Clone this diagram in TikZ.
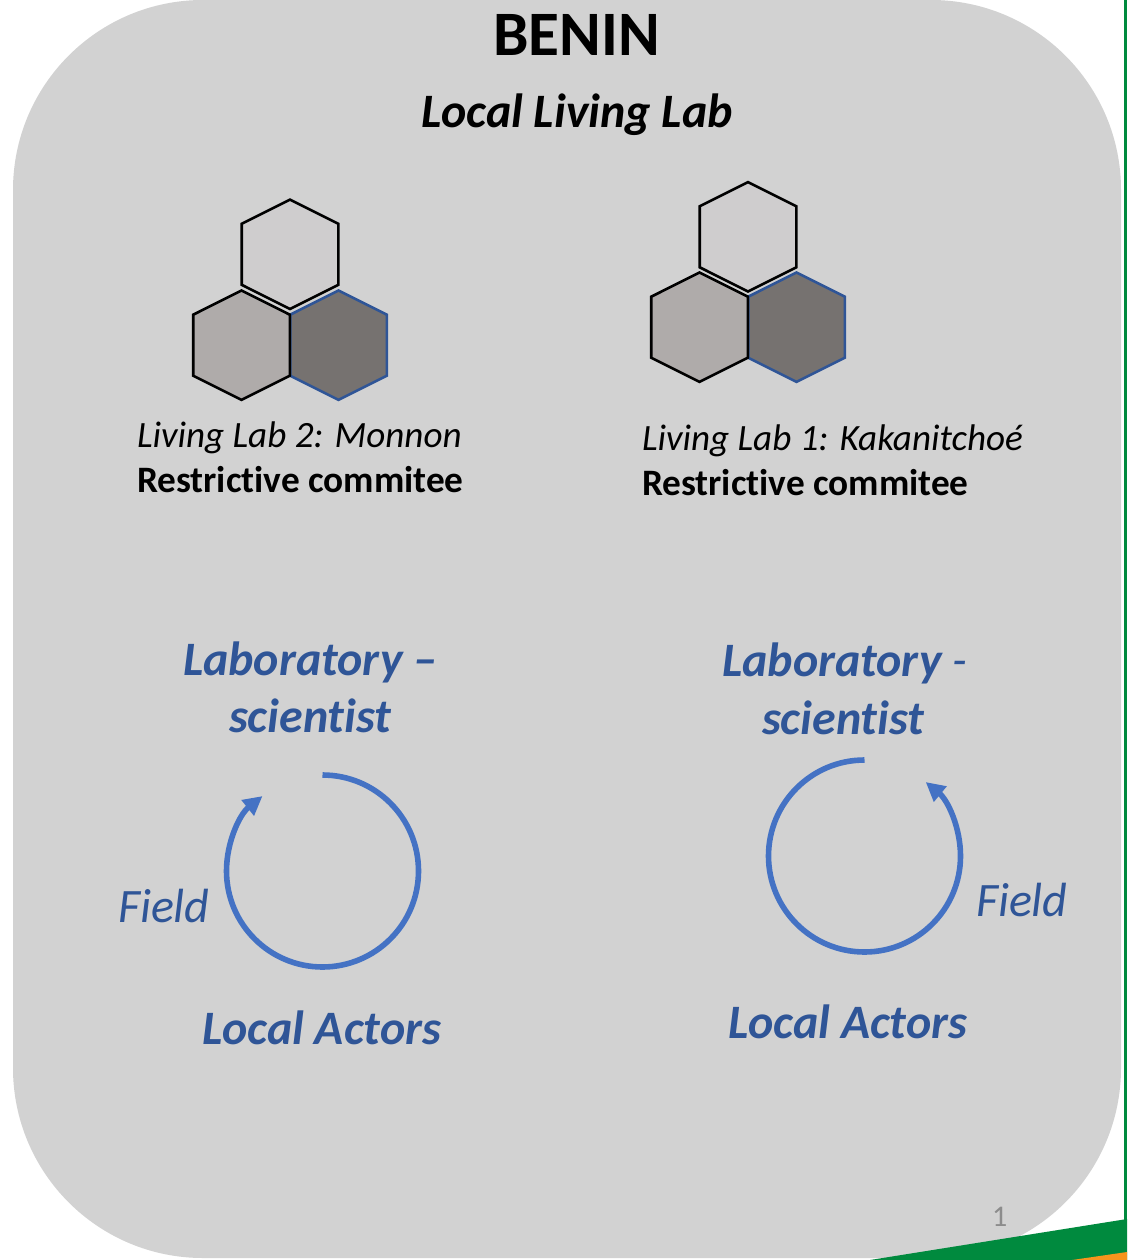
\documentclass[tikz,border=0pt]{standalone}
\usepackage{fontspec}
\setmainfont[Ligatures={NoCommon,TeX}]{Carlito}
\usetikzlibrary{arrows.meta}
\definecolor{panel}{HTML}{D2D2D2}
\definecolor{sgreen}{HTML}{008A3E}
\definecolor{sorange}{HTML}{F7941D}
\definecolor{hexa}{HTML}{CFCDCE}
\definecolor{hexb}{HTML}{AFABAA}
\definecolor{hexc}{HTML}{767270}
\definecolor{hexblue}{HTML}{2F5597}
\definecolor{ringblue}{HTML}{4472C4}
\definecolor{textblue}{HTML}{2F5597}
\definecolor{numgrey}{HTML}{8C8C8C}
\tikzset{
  x=1pt,y=-1pt,
  txt/.style={inner sep=0pt,outer sep=0pt,anchor=base west,text=black},
  title/.style={txt,font=\fontsize{63.3}{66}\selectfont\bfseries},
  subtitle/.style={txt,font=\fontsize{48}{50}\selectfont\bfseries\itshape},
  lablab/.style={txt,font=\fontsize{37.1}{40}\selectfont\itshape},
  commit/.style={txt,font=\fontsize{37.3}{40}\selectfont\bfseries},
  cyclebold/.style={txt,text=textblue,font=\fontsize{48}{50}\selectfont\bfseries\itshape},
  cyclefield/.style={txt,text=textblue,font=\fontsize{48}{50}\selectfont\itshape},
  ring/.style={draw=ringblue,line width=5.6pt,-{Triangle[length=19pt,width=19pt]}},
  hexline/.style={line width=2.6pt,line join=miter,draw=black},
}
\newcommand{\hexagon}[4]{% cx, cy, fill, draw
  \path[hexline,fill=#3,draw=#4] (#1,#2-54.7) -- (#1+48.3,#2-30.5) -- (#1+48.3,#2+30.5)
    -- (#1,#2+54.7) -- (#1-48.3,#2+30.5) -- (#1-48.3,#2-30.5) -- cycle;}
\begin{document}
\begin{tikzpicture}
\useasboundingbox (0,0) rectangle (1127,1260);
\fill[white] (0,0) rectangle (1127,1260);
% panel
\fill[panel,rounded corners=190pt] (13,0) rectangle (1121,1258);
% slide decoration
\fill[sgreen] (1124,0) rectangle (1127,1260);
\fill[sgreen] (870,1260) -- (1127,1219) -- (1127,1260) -- cycle;
\fill[sorange] (1072,1260) -- (1127,1252) -- (1127,1260) -- cycle;
% titles
\node[title] (benin) at (493,56) {BENIN};
\node[subtitle] (local) at (421,127.5) {Local Living Lab};
% left hexagons
\hexagon{290}{254.3}{hexa}{black}
\hexagon{338.5}{345.2}{hexc}{hexblue}
\hexagon{241.5}{345.2}{hexb}{black}
% right hexagons
\hexagon{748}{236.8}{hexa}{black}
\hexagon{796.5}{327.2}{hexc}{hexblue}
\hexagon{699.5}{327.2}{hexb}{black}
% labels
\node[lablab] (ll2) at (137,447) {Living Lab 2: Monnon};
\node[commit] (rc2) at (137,492) {Restrictive commitee};
\node[lablab] (ll1) at (642,450) {Living Lab 1: Kakanitchoé};
\node[commit] (rc1) at (642,495) {Restrictive commitee};
% cycles left
\node[cyclebold] (lab2) at (183,675.5) {Laboratory –};
\node[cyclebold] (sci2) at (229,732.5) {scientist};
\draw[ring] (322.5,775) arc[start angle=-90,end angle=231.3,radius=96];
\node[cyclefield] (field2) at (118,922.5) {Field};
\node[cyclebold] (act2) at (202,1044.5) {Local Actors};
% cycles right
\node[cyclebold] (lab1) at (722,676.5) {Laboratory \textmd{\itshape -}};
\node[cyclebold] (sci1) at (762,734.5) {scientist};
\draw[ring] (864.5,760) arc[start angle=-90,end angle=-410.4,radius=96];
\node[cyclefield] (field1) at (976,916.5) {Field};
\node[cyclebold] (act1) at (728,1038.5) {Local Actors};
% page number
\node[txt,text=numgrey,font=\fontsize{30}{32}\selectfont] (num) at (992,1226) {1};
\end{tikzpicture}
\end{document}
